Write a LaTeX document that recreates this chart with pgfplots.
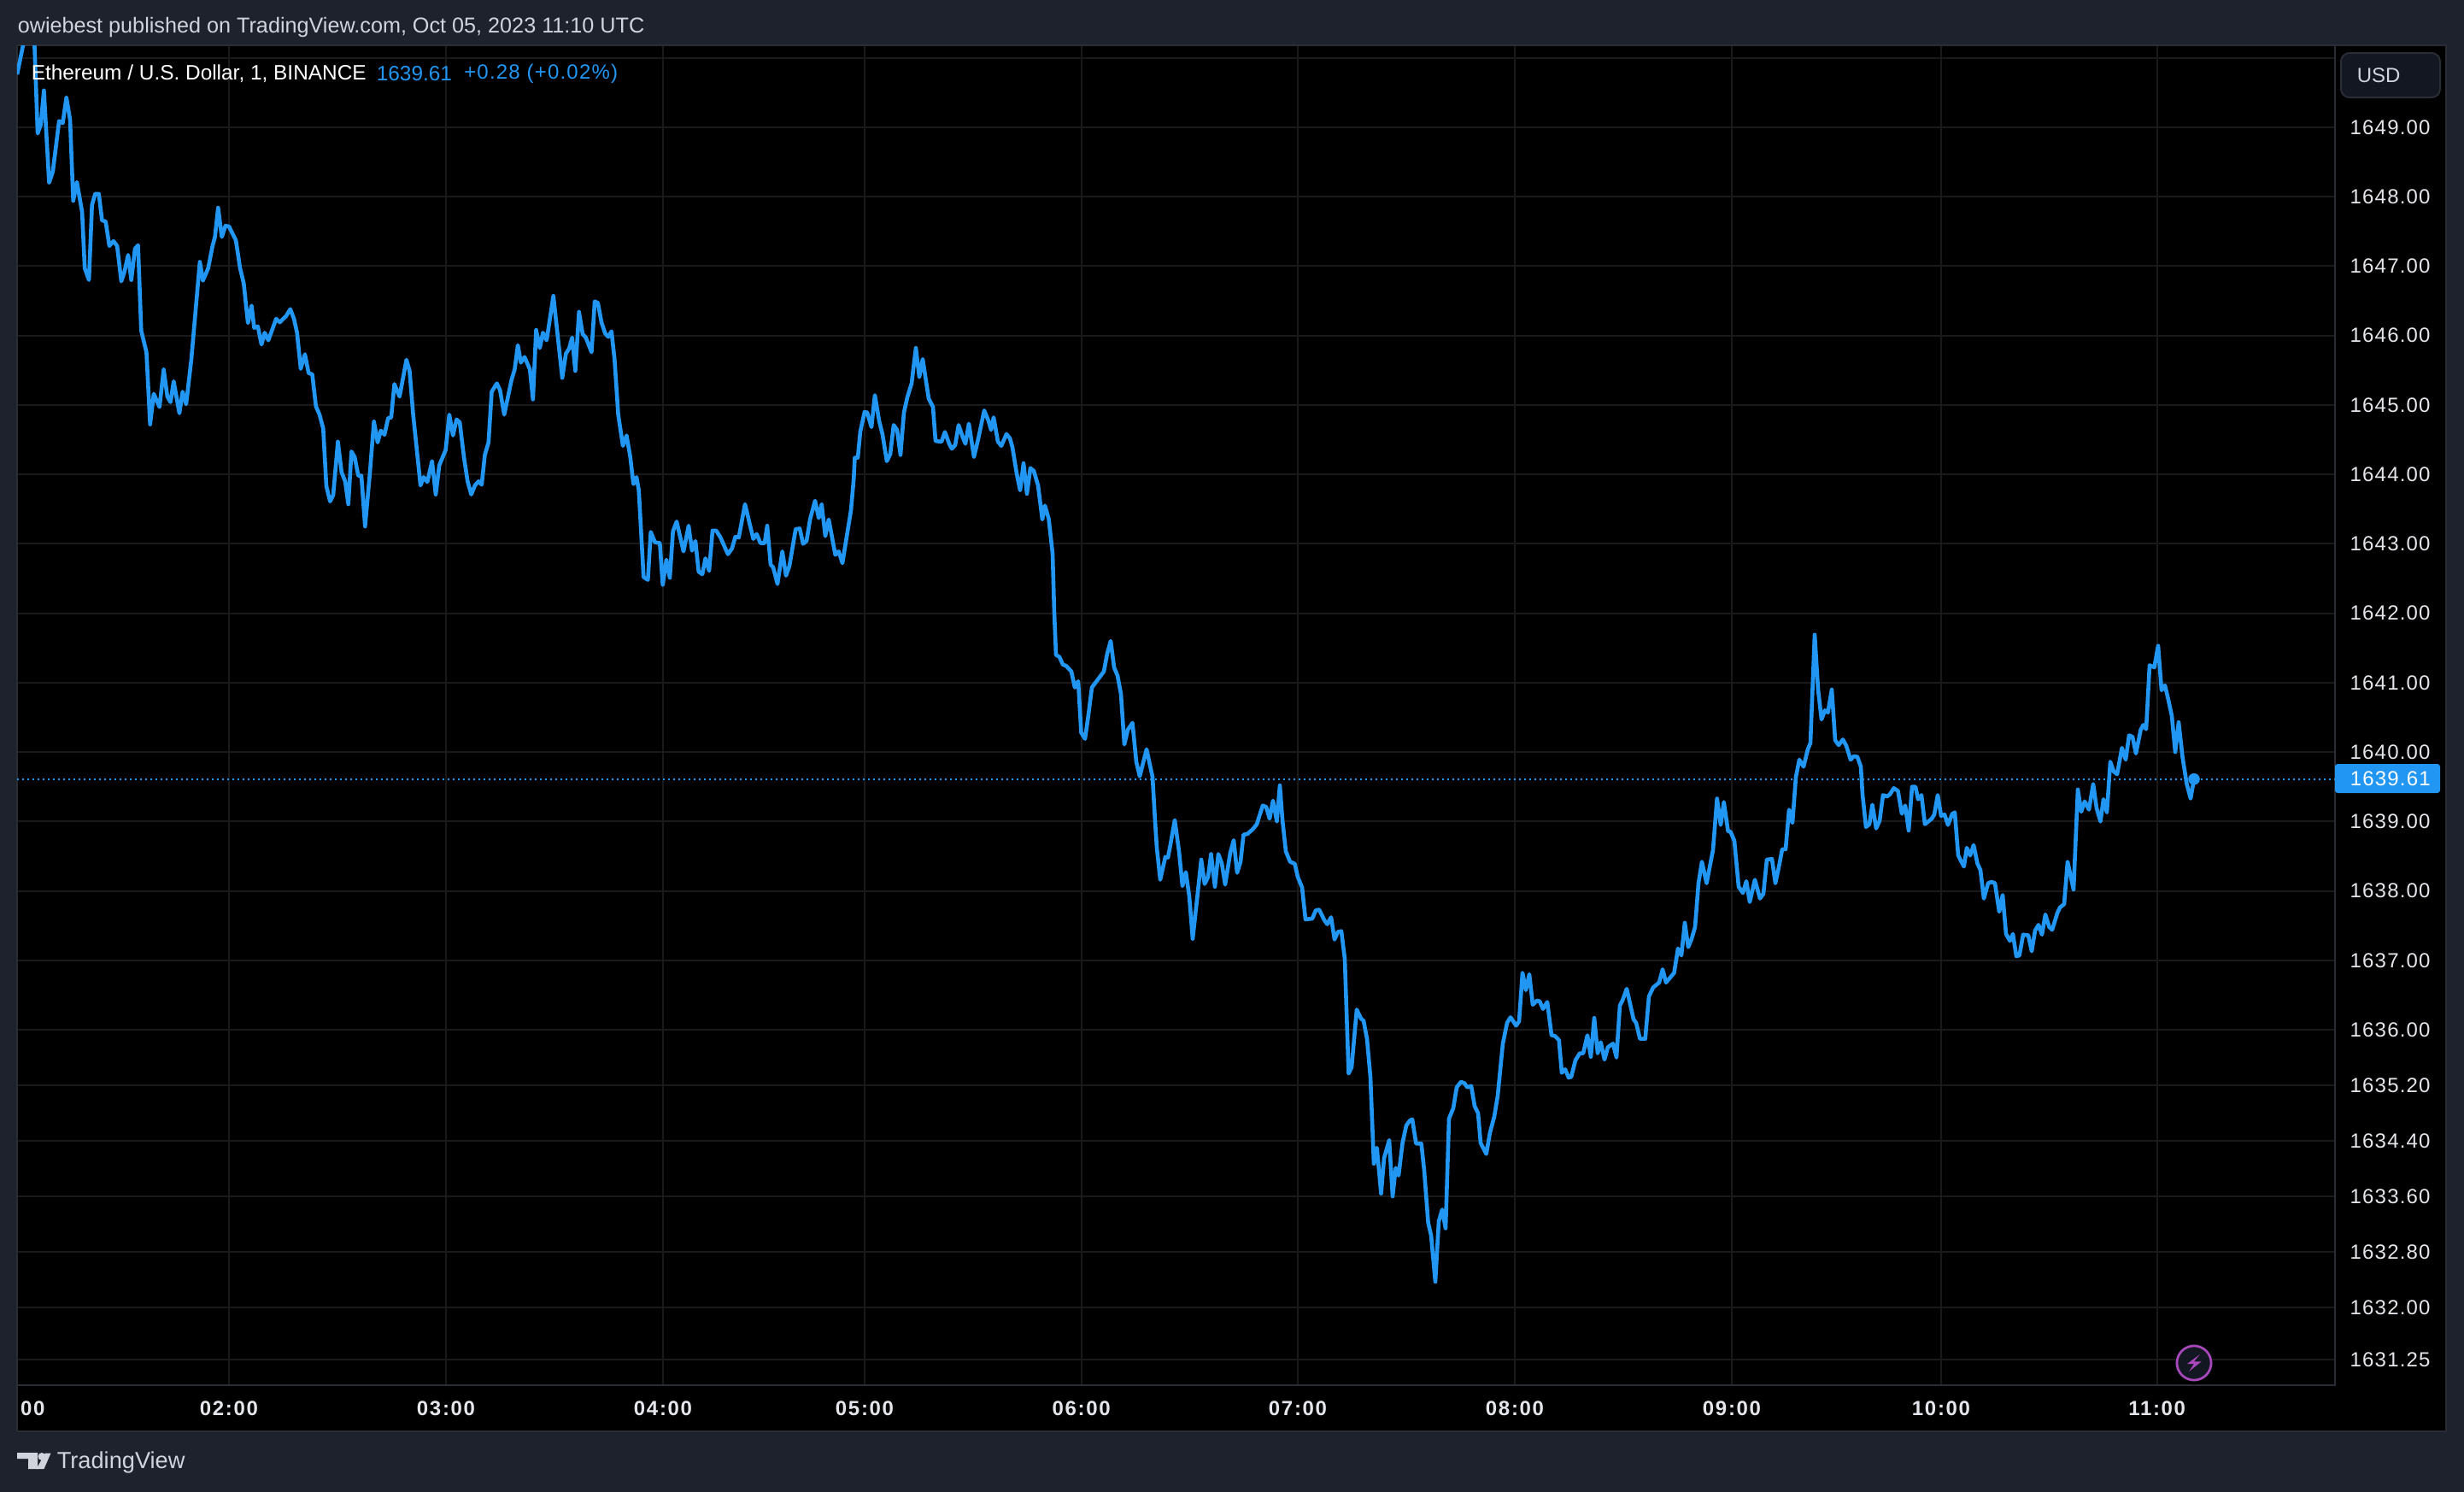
\documentclass[border=0pt]{standalone}
\usepackage{pgfplots}
\usepackage{fontspec}
\pgfplotsset{compat=1.18}
\setmainfont{Liberation Sans}
\newfontfamily\tickfont[LetterSpace=5]{Liberation Sans}
\newfontfamily\timefont[LetterSpace=7,BoldFont={Liberation Sans Bold}]{Liberation Sans}
\definecolor{panel}{HTML}{1E222D}
\definecolor{frameline}{HTML}{2A2D36}
\definecolor{gridline}{HTML}{1A1A1A}
\definecolor{ink}{HTML}{D1D4DC}
\definecolor{tick}{HTML}{E4E6EB}
\definecolor{ethblue}{HTML}{2196F3}
\definecolor{bolt}{HTML}{AB47BC}
\definecolor{btn}{HTML}{131722}

% x is the position along the time axis, hours are not evenly spaced because of missing bars
\pgfplotstableread{
x p
20 1649.76
27 1650.18
30 1650.60
38 1650.60
40.4 1650.18
44.1 1648.91
47.8 1649.04
51.4 1649.53
57.5 1648.20
61.8 1648.36
69.2 1649.09
73.5 1649.06
77.7 1649.43
82 1649.11
85.7 1647.94
90 1648.21
96.1 1647.78
99.2 1646.97
104.1 1646.80
107.7 1647.88
111.4 1648.04
115.7 1648.04
119.4 1647.66
123.7 1647.64
128 1647.29
132.8 1647.36
137.1 1647.29
142 1646.78
145.7 1646.92
150 1647.16
153.7 1646.80
158 1647.25
161.6 1647.30
165.3 1646.07
171.4 1645.76
175.7 1644.72
180 1645.16
186.7 1644.97
191.6 1645.51
195.9 1645.12
199.6 1645.04
203.3 1645.34
210 1644.88
213.7 1645.19
217.9 1645.01
224 1645.66
233.9 1647.06
237.5 1646.79
243.7 1646.97
248.6 1647.28
251.6 1647.42
255.3 1647.84
259.6 1647.42
263.9 1647.58
268.1 1647.57
276.1 1647.37
281 1646.97
285.3 1646.75
290.2 1646.18
294.5 1646.43
297.5 1646.11
301.8 1646.13
306.1 1645.87
309.8 1646.04
314.1 1645.93
323.2 1646.24
327.5 1646.19
334.9 1646.28
339.8 1646.38
344.1 1646.24
347.7 1646.04
352 1645.52
356.9 1645.73
361.2 1645.46
365.5 1645.44
369.8 1644.98
374 1644.86
378.3 1644.66
382 1643.83
386.3 1643.61
390 1643.70
395.5 1644.47
399.8 1644.03
404 1643.90
407.7 1643.57
411.4 1644.33
415.1 1644.25
419.4 1643.98
423 1643.98
427.3 1643.25
432.8 1644.00
437.7 1644.76
442 1644.46
445.7 1644.63
450 1644.57
454.3 1644.81
457.9 1644.82
461.6 1645.30
467.7 1645.12
475.7 1645.65
479.4 1645.49
483.6 1644.86
487.9 1644.35
492.2 1643.84
495.9 1643.96
500.2 1643.89
505.7 1644.19
510 1643.71
514.2 1644.13
521.6 1644.35
525.9 1644.86
530.2 1644.56
534.4 1644.79
538.1 1644.75
543 1644.25
547.3 1643.90
551.6 1643.71
555.9 1643.84
560.2 1643.90
563.8 1643.85
567.5 1644.28
571.8 1644.46
575.5 1645.19
581.6 1645.31
585.3 1645.21
590.2 1644.86
598.7 1645.36
602.4 1645.51
606.1 1645.86
609.7 1645.61
614 1645.69
620.2 1645.51
623.8 1645.08
627.5 1646.08
631.8 1645.82
635.5 1646.04
639.8 1645.93
647.7 1646.57
658.1 1645.39
662.4 1645.74
666.1 1645.81
669.7 1645.97
673.4 1645.49
677.7 1646.34
682 1646.02
685.7 1645.97
692.4 1645.76
696.1 1646.49
699.8 1646.47
704 1646.19
708.3 1646.03
712 1645.98
715.7 1646.06
719.3 1645.66
723.6 1644.86
729.1 1644.41
733.4 1644.56
737.7 1644.25
741.4 1643.86
745 1643.96
747.7 1643.77
753.3 1642.52
758.3 1642.48
761.7 1643.17
766.7 1643.02
772.3 1643.01
775.7 1642.41
780 1642.77
784 1642.51
787.7 1643.18
792 1643.32
800 1642.89
806 1643.26
810 1642.90
814 1643.04
817.7 1642.60
822 1642.56
825.7 1642.79
830 1642.61
834 1643.19
838.3 1643.19
843.3 1643.09
852 1642.85
856.7 1642.93
860.7 1643.10
864.7 1643.09
872 1643.57
881.7 1643.07
885.7 1643.14
890 1643.01
895 1643.01
898 1643.26
902 1642.70
905 1642.66
910 1642.42
915.7 1642.89
920 1642.54
924 1642.68
931.3 1643.21
936 1643.22
940 1643.00
944 1643.04
948.3 1643.36
954 1643.62
958.3 1643.37
961.7 1643.57
966 1643.11
970 1643.35
977.7 1642.84
981.7 1642.89
986 1642.72
996 1643.48
999.3 1643.94
1000.5 1644.24
1004 1644.24
1007 1644.62
1012 1644.90
1015 1644.89
1020 1644.68
1024 1645.14
1029 1644.77
1033 1644.57
1038 1644.19
1042 1644.29
1046 1644.71
1050 1644.64
1054 1644.28
1058 1644.89
1062 1645.11
1067 1645.31
1072 1645.82
1076 1645.40
1080 1645.66
1087 1645.09
1092 1644.97
1095 1644.48
1102 1644.47
1106 1644.61
1111 1644.44
1114 1644.37
1118 1644.42
1122 1644.71
1127 1644.53
1130 1644.44
1134 1644.73
1140 1644.25
1145.5 1644.54
1152 1644.92
1157 1644.77
1160 1644.64
1163 1644.82
1168 1644.47
1172 1644.41
1178 1644.58
1182 1644.52
1185 1644.39
1190 1644.01
1194 1643.77
1198 1644.16
1202 1643.72
1206 1644.09
1210 1644.05
1215 1643.84
1220 1643.35
1223 1643.55
1227.5 1643.36
1232 1642.86
1234 1642.00
1236 1641.40
1240 1641.37
1244 1641.26
1248 1641.24
1254 1641.16
1258 1640.93
1262 1641.02
1265.5 1640.28
1270 1640.19
1274 1640.54
1278 1640.93
1292 1641.16
1296 1641.42
1300 1641.60
1304 1641.22
1308 1641.10
1312 1640.84
1316 1640.11
1320 1640.32
1325.5 1640.42
1330 1639.86
1334 1639.65
1342 1640.04
1349 1639.64
1352 1639.00
1354 1638.62
1358 1638.16
1364 1638.49
1367 1638.48
1370 1638.67
1375 1639.02
1380 1638.57
1384 1638.07
1388 1638.27
1392 1637.92
1396 1637.31
1401 1637.87
1406 1638.45
1410 1638.10
1414 1638.20
1417.5 1638.53
1422 1638.06
1426 1638.53
1430 1638.40
1434 1638.09
1440 1638.55
1444 1638.73
1448 1638.26
1452 1638.42
1455.5 1638.81
1460 1638.82
1466.5 1638.89
1471 1638.96
1478 1639.23
1482 1639.21
1486 1639.04
1490 1639.30
1494.5 1639.00
1498 1639.52
1501 1639.03
1505 1638.57
1510 1638.42
1515.5 1638.39
1519 1638.20
1524 1638.05
1528 1637.59
1536 1637.60
1540 1637.72
1544 1637.73
1550 1637.58
1553.5 1637.52
1558 1637.62
1562 1637.30
1566 1637.41
1570 1637.42
1574 1637.02
1578.5 1635.37
1582 1635.46
1588 1636.29
1593 1636.16
1596 1636.13
1600 1635.87
1604 1635.32
1608 1634.07
1611.6 1634.30
1616.5 1633.64
1620 1634.15
1626 1634.41
1630 1633.60
1633.6 1634.01
1637 1633.90
1641.6 1634.37
1646 1634.62
1650 1634.69
1653 1634.71
1657.5 1634.36
1663.6 1634.36
1667 1633.97
1671.6 1633.22
1675 1633.04
1680 1632.37
1684 1633.24
1688 1633.41
1692 1633.14
1696 1634.72
1701 1634.87
1705 1635.17
1710 1635.25
1714 1635.23
1717.5 1635.17
1722 1635.19
1726 1634.90
1730 1634.80
1733 1634.37
1739.6 1634.21
1744 1634.52
1749 1634.75
1753 1635.05
1759 1635.80
1764 1636.10
1768 1636.18
1774.5 1636.06
1778 1636.12
1782 1636.82
1786 1636.57
1790 1636.80
1794 1636.36
1799 1636.42
1802 1636.41
1806 1636.30
1811 1636.40
1816 1635.92
1820 1635.91
1824.7 1635.85
1828 1635.38
1832 1635.43
1836 1635.31
1839 1635.32
1844 1635.56
1849 1635.66
1853 1635.66
1858 1635.92
1862 1635.61
1866 1636.17
1870 1635.66
1873.6 1635.82
1878 1635.57
1882 1635.75
1888 1635.80
1892 1635.60
1896 1636.35
1899 1636.42
1904 1636.59
1912 1636.15
1915 1636.10
1919.5 1635.87
1925.7 1635.87
1930 1636.48
1935 1636.61
1942 1636.68
1946 1636.87
1950 1636.68
1959.5 1636.82
1964 1637.17
1968 1637.07
1972 1637.54
1976 1637.19
1980 1637.31
1984 1637.48
1988 1638.11
1992 1638.42
1997.5 1638.11
2005 1638.59
2009.7 1639.33
2014 1638.95
2017.7 1639.28
2022.6 1638.86
2025.6 1638.85
2030 1638.72
2035 1638.06
2040 1637.97
2044 1638.14
2048 1637.84
2054 1638.16
2060 1637.89
2064 1637.96
2068 1638.45
2074 1638.46
2078 1638.11
2082 1638.34
2086 1638.60
2090 1638.60
2094 1639.17
2098 1638.98
2102 1639.64
2106 1639.89
2111 1639.79
2116 1640.04
2119 1640.13
2124 1641.69
2128 1640.90
2132 1640.47
2136 1640.60
2139.5 1640.57
2144 1640.90
2148 1640.17
2152 1640.10
2157 1640.18
2161 1640.09
2166 1639.89
2170 1639.94
2174 1639.93
2178 1639.79
2180 1639.39
2184 1638.92
2188 1638.96
2191.5 1639.24
2196 1638.90
2200 1639.01
2204 1639.38
2208.7 1639.36
2212 1639.39
2216.6 1639.48
2221.5 1639.44
2226 1639.11
2230 1639.23
2234 1638.87
2238 1639.50
2242 1639.50
2245 1639.32
2249 1639.38
2253 1638.96
2261 1639.04
2264 1639.10
2268 1639.38
2272 1639.08
2276 1639.10
2280 1638.95
2285 1639.11
2288 1639.13
2292 1638.51
2298.7 1638.35
2302 1638.62
2306 1638.51
2310 1638.66
2314.6 1638.39
2318 1638.30
2322 1637.89
2327 1638.11
2331 1638.13
2335 1638.11
2340 1637.70
2344 1637.94
2348 1637.38
2352.5 1637.28
2356 1637.38
2360 1637.06
2363.6 1637.07
2368 1637.37
2374 1637.36
2378 1637.13
2382 1637.43
2386 1637.51
2390 1637.37
2394 1637.66
2398.5 1637.48
2402 1637.44
2408 1637.68
2411 1637.76
2416 1637.81
2420 1638.42
2427 1638.02
2432 1639.46
2436 1639.14
2440 1639.29
2445 1639.17
2450 1639.54
2454 1639.19
2458.5 1639.00
2462 1639.32
2466 1639.13
2470 1639.86
2474 1639.72
2478 1639.68
2483.6 1640.06
2488 1639.89
2492 1640.24
2496 1640.22
2500 1639.98
2505.6 1640.32
2508.6 1640.39
2512 1640.33
2516 1641.25
2521.5 1641.22
2526 1641.53
2530 1640.89
2534 1640.96
2538 1640.75
2542 1640.52
2546 1640.00
2550 1640.43
2554.6 1639.92
2559.5 1639.54
2564 1639.33
2568 1639.61
}\ethprice

\begin{document}
\begin{tikzpicture}
\fill[panel] (0,0) rectangle (721pt,-436.5pt);
\useasboundingbox (0,0) rectangle (721pt,-436.5pt);
\begin{scope}[x=0.25pt,y=-0.25pt]
  % price scale and time scale panels
  \fill[black] (20,53) rectangle (2863,1675);
  \draw[frameline,line width=0.5pt] (20,53) rectangle (2863,1675);
\end{scope}
\begin{axis}[
    at={(5pt,-405.25pt)},
    anchor=south west,
    scale only axis,
    width=678.25pt,
    height=392pt,
    xmin=20, xmax=2733,
    ymin=1630.88, ymax=1650.18,
    axis background/.style={fill=black},
    axis line style={frameline,line width=0.5pt},
    xtick={268,522,776,1012,1265.6,1519,1773,2027,2272,2524.7},
    xticklabels={02:00,03:00,04:00,05:00,06:00,07:00,08:00,09:00,10:00,11:00},
    ytick={1631.25,1632,1632.8,1633.6,1634.4,1635.2,1636,1637,1638,1639,1640,1641,1642,1643,1644,1645,1646,1647,1648,1649,1650},
    yticklabels={1631.25,1632.00,1632.80,1633.60,1634.40,1635.20,1636.00,1637.00,1638.00,1639.00,1640.00,1641.00,1642.00,1643.00,1644.00,1645.00,1646.00,1647.00,1648.00,1649.00,},
    ymajorgrids, xmajorgrids,
    minor tick num=0,
    grid style={gridline,line width=0.5pt},
    major tick length=0pt,
    ytick pos=right,
    xtick pos=bottom,
    yticklabel style={anchor=west,xshift=4.2pt,inner sep=0pt,text=tick,font=\tickfont\fontsize{6}{7}\selectfont},
    xticklabel style={anchor=center,yshift=-6.8pt,inner sep=0pt,text=tick,font=\timefont\bfseries\fontsize{6}{7}\selectfont},
  ]
  \addplot[ethblue,line width=0.5pt,dash pattern=on 0.5pt off 1pt,forget plot] coordinates {(20,1639.61) (2733,1639.61)};
  \addplot[ethblue,line width=1.15pt,line join=round] table[x=x,y=p] {\ethprice};
  \addplot[ethblue,only marks,mark=*,mark size=1.5pt,mark options={draw=none,fill=ethblue}] coordinates {(2568,1639.61)};
\end{axis}
\begin{scope}[x=0.25pt,y=-0.25pt]
  % header and legend
  \node[anchor=west,inner sep=0pt,text=ink,font=\fontsize{6.3}{7}\selectfont] at (20,32) {owiebest published on TradingView.com, Oct 05, 2023 11:10 UTC};
  \node[anchor=west,inner sep=0pt,text=white,font=\fontsize{6.1}{7}\selectfont] at (36,86) {Ethereum / U.S. Dollar, 1, BINANCE};
  \node[anchor=west,inner sep=0pt,text=ethblue,font=\fontsize{6.1}{7}\selectfont] at (440,86) {1639.61};
  \node[anchor=west,inner sep=0pt,text=ethblue,font=\tickfont\fontsize{6}{7}\selectfont] at (542.5,86) {+0.28 (+0.02\%)};
  % USD button
  \draw[frameline,fill=btn,line width=0.5pt,rounded corners=2.5pt] (2740,62) rectangle (2856,114);
  \node[anchor=west,inner sep=0pt,text=ink,font=\fontsize{6}{7}\selectfont] at (2758,88) {USD};
  % last price flag
  \fill[ethblue,rounded corners=0.8pt] (2733,894) rectangle (2856,928);
  \node[anchor=west,inner sep=0pt,text=white,font=\tickfont\fontsize{6}{7}\selectfont] at (2750,911) {1639.61};
  % clipped 01:00 label at the left edge
  \begin{scope}
    \clip (20,1625) rectangle (200,1672);
    \node[inner sep=0pt,text=tick,font=\timefont\bfseries\fontsize{6}{7}\selectfont] at (18.5,1648) {01:00};
  \end{scope}
  % bolt marker
  \fill[btn] (2568,1595) circle (22);
  \draw[bolt,line width=0.65pt,fill=btn] (2568,1595) circle (20);
  \fill[bolt] (2574.7,1585) -- (2560,1596) -- (2568,1596) -- (2562,1605) -- (2576.7,1593.3) -- (2568,1593.3) -- cycle;
  % footer logo and name
  \fill[ink] (20,1700) -- (44,1700) -- (44,1719) -- (33,1719) -- (33,1707) -- (20,1707) -- cycle;
  \fill[ink] (49,1704.5) circle (4.5);
  \fill[ink] (59.5,1700.5) -- (53,1700.5) -- (42.5,1719) -- (51.5,1719) -- cycle;
  \node[anchor=west,inner sep=0pt,text=ink,font=\fontsize{6.8}{8}\selectfont] at (66,1711) {TradingView};
\end{scope}
\end{tikzpicture}
\end{document}
